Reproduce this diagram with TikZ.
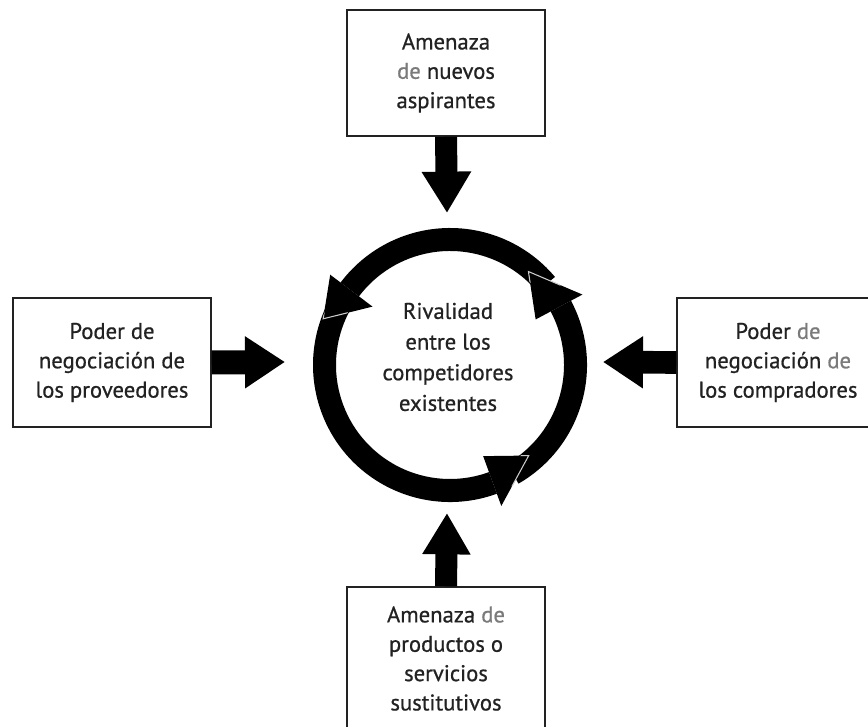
\documentclass[tikz,border=0pt]{standalone}
\usepackage{fontspec}
\setmainfont{PT Sans}[FakeBold=0.7]
\usetikzlibrary{arrows.meta}
\definecolor{ink}{HTML}{222222}
\definecolor{soft}{HTML}{7A7A7A}
\tikzset{
  force/.style={draw=ink, line width=1.1pt, fill=white, align=center,
    text=ink, font=\fontsize{17}{22}\selectfont, inner sep=0pt},
  fatarrow/.style={draw=black, line width=#1, line cap=butt},
  seam/.style={draw=gray!40, line width=0.8pt},
}
% body of one curved arrow: start angle, end angle
\newcommand{\ringseg}[2]{%
  \fill[black] (#1:114) arc[start angle=#1, end angle=#2, radius=114]
    -- (#2:137) arc[start angle=#2, end angle=#1, radius=137] -- cycle;
}
% head of one curved arrow: base angle, tip angle, tip radius
\newcommand{\ringhead}[3]{%
  \fill[black] (#1:150) -- (#2:#3) -- (#1:97) -- cycle;
  \begin{scope}[even odd rule]
    \clip (0,0) circle[radius=136] (0,0) circle[radius=115];
    \draw[seam] (#1:150) -- (#2:#3) -- (#1:97);
  \end{scope}
}
\begin{document}
\begin{tikzpicture}[x=0.75pt,y=0.75pt]
  \useasboundingbox (0,0) rectangle (868,727);
  \clip (0,0) rectangle (868,727);
  \fill[white] (0,0) rectangle (868,727);

  % the four outer forces
  \node[force, minimum width=148.5pt, minimum height=94.5pt] (top) at (446,654)
    {Amenaza\\{\color{soft}de} nuevos\\aspirantes};
  \node[force, minimum width=148.5pt, minimum height=96.75pt] (left) at (112,364.5)
    {Poder de\\negociación de\\los proveedores};
  \node[force, minimum width=151.5pt, minimum height=96.75pt] (right) at (778,364.5)
    {Poder {\color{soft}de}\\negociación {\color{soft}de}\\los compradores};
  \node[force, minimum width=148.5pt, minimum height=107.25pt] (bottom) at (446,68.5)
    {Amenaza {\color{soft}de}\\productos o\\servicios\\sustitutivos};

  % centre text
  \node[align=center, text=ink, font=\fontsize{17}{23}\selectfont] (rival) at (448,370)
    {Rivalidad\\entre los\\competidores\\existentes};

  % rivalry cycle: three curved arrows running counter-clockwise
  \begin{scope}[shift={(450,362)}]
    \ringseg{40}{143}
    \ringseg{150}{290}
    \ringseg{300}{388}
    \ringhead{143}{160}{135}
    \ringhead{290}{311}{120}
    \ringhead{388}{410}{122}
  \end{scope}

  % arrow tips near the cycle
  \coordinate (ptop) at (447,514);
  \coordinate (pbottom) at (447,214);
  \coordinate (pleft) at (285,365);
  \coordinate (pright) at (603,365);

  \draw[fatarrow=16.5pt, -{Triangle[length=31pt,width=35pt]}] (top.south) -- (ptop);
  \draw[fatarrow=16.5pt, -{Triangle[length=31pt,width=34pt]}] (bottom.north) -- (pbottom);
  \draw[fatarrow=18pt, -{Triangle[length=30pt,width=37pt]}] (left.east) -- (pleft);
  \draw[fatarrow=17pt, -{Triangle[length=30pt,width=37pt]}] (right.west) -- (pright);
\end{tikzpicture}
\end{document}
